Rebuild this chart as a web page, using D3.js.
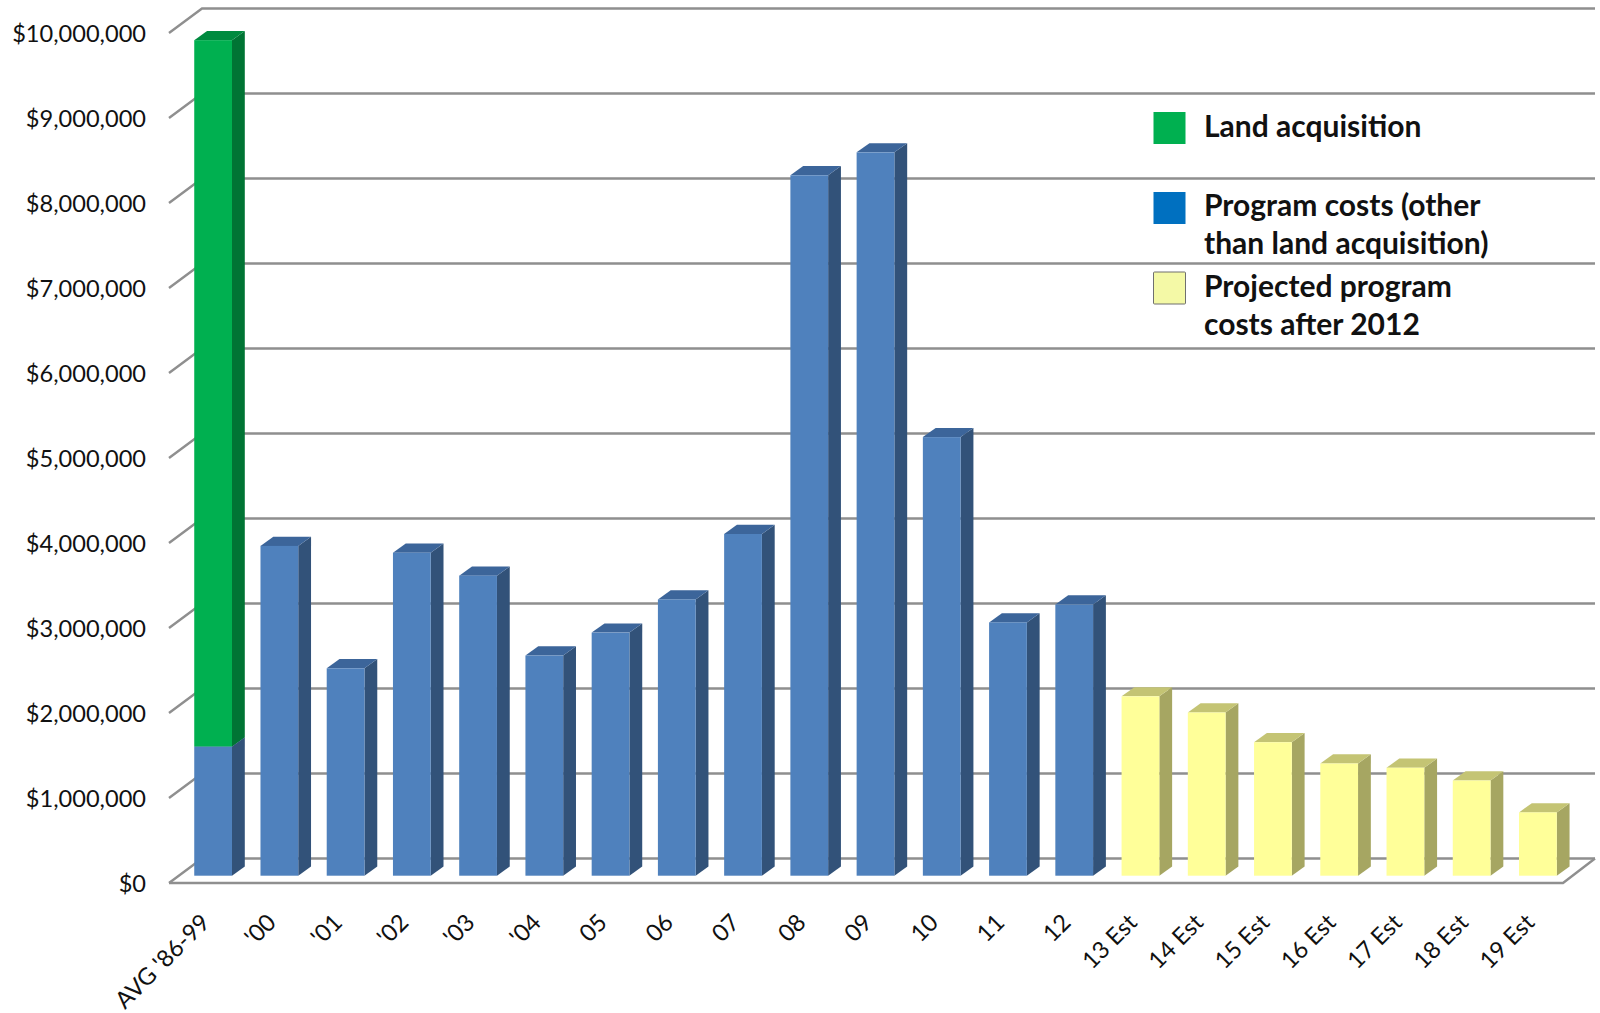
<!DOCTYPE html>
<html>
<head>
<meta charset="utf-8">
<script src="https://cdn.jsdelivr.net/npm/d3@7"></script>
<style>
  html, body { margin: 0; background: #fff; }
  svg { display: block; }
  text { font-family: Lato, "Open Sans", sans-serif; fill: #111; }
</style>
</head>
<body>
<div id="chart"></div>
<script>
const categories = ["AVG '86-99","'00","'01","'02","'03","'04","05","06","07","08","09","10","11","12",
  "13 Est","14 Est","15 Est","16 Est","17 Est","18 Est","19 Est"];
const programCosts = [1.52,3.88,2.44,3.80,3.53,2.59,2.86,3.25,4.02,8.24,8.51,5.16,2.98,3.19,0,0,0,0,0,0,0];
const landCosts    = [8.31,0,0,0,0,0,0,0,0,0,0,0,0,0,0,0,0,0,0,0,0];
const projected    = [0,0,0,0,0,0,0,0,0,0,0,0,0,0,2.11,1.92,1.57,1.32,1.27,1.12,0.745];
const yTicks = [0,1,2,3,4,5,6,7,8,9,10];
const legendItems = [
  { label: ["Land acquisition"], fill: "#00b050", stroke: "none" },
  { label: ["Program costs (other", "than land acquisition)"], fill: "#0070c0", stroke: "none" },
  { label: ["Projected program", "costs after 2012"], fill: "#f4f9a6", stroke: "#6f6f6f" },
];

const W = 1600, H = 1013;
const FLOOR = { x0: 169, x1: 1563, y0: 883, y1: 33 };
const WALL = { dx: 33, dy: -24.5 };   // back wall offset from the front plane
const BAR = { dx: 11, dy: -7.3, sideX: 12.8, sideY: -9.2, w: 0.57 };

const SKINS = {
  program:   { front: "#4f81bd", side: "#325279", top: "#3c659a" },
  land:      { front: "#00b050", side: "#007434", top: "#008a3f" },
  projected: { front: "#ffff99", side: "#a6a662", top: "#c4c474" },
};

const x = d3.scaleBand().domain(categories).range([FLOOR.x0, FLOOR.x1 - 3]);
const y = d3.scaleLinear().domain([0, 10]).range([FLOOR.y0, FLOOR.y1]);

const svg = d3.select("#chart").append("svg").attr("width", W).attr("height", H);

// ── Walls and floor ──
const grid = svg.append("g").attr("fill", "none").attr("stroke", "#8f8f8f").attr("stroke-width", 2.4);
grid.selectAll("path.wall").data(yTicks).join("path").attr("class", "wall")
  .attr("d", d => `M${FLOOR.x0},${y(d)}L${FLOOR.x0 + WALL.dx},${y(d) + WALL.dy}L${FLOOR.x1 + WALL.dx - 1},${y(d) + WALL.dy}`);
grid.append("path")
  .attr("d", `M${FLOOR.x0},${y(0)}L${FLOOR.x1},${y(0)}L${FLOOR.x1 + WALL.dx - 1},${y(0) + WALL.dy}`);

// ── Bars ──
const segments = [];
categories.forEach((c, i) => {
  let base = 0;
  [["program", programCosts[i]], ["land", landCosts[i]], ["projected", projected[i]]].forEach(([type, v]) => {
    if (v > 0) { segments.push({ c, type, base, top: base + v }); base += v; }
  });
});

const bw = x.bandwidth() * BAR.w;
const left = d => x(d.c) + (x.bandwidth() - bw) / 2 + BAR.dx;
const bars = svg.append("g").selectAll("g").data(segments).join("g");

bars.append("path") // side
  .attr("fill", d => SKINS[d.type].side)
  .attr("d", d => {
    const r = left(d) + bw, b = y(d.base) + BAR.dy, t = y(d.top) + BAR.dy;
    return `M${r},${b}L${r + BAR.sideX},${b + BAR.sideY}L${r + BAR.sideX},${t + BAR.sideY}L${r},${t}Z`;
  });
bars.append("path") // top
  .attr("fill", d => SKINS[d.type].top)
  .attr("d", d => {
    const l = left(d), t = y(d.top) + BAR.dy;
    return `M${l},${t}L${l + BAR.sideX},${t + BAR.sideY}L${l + bw + BAR.sideX},${t + BAR.sideY}L${l + bw},${t}Z`;
  });
bars.append("rect") // front
  .attr("x", left).attr("width", bw)
  .attr("y", d => y(d.top) + BAR.dy)
  .attr("height", d => y(d.base) - y(d.top))
  .attr("fill", d => SKINS[d.type].front);

// ── Axes ──
const yAxis = svg.append("g")
  .attr("transform", `translate(${FLOOR.x0 - 23},0)`)
  .call(d3.axisLeft(y).tickValues(yTicks).tickSize(0).tickPadding(0)
    .tickFormat(d => "$" + d3.format(",")(d * 1e6)));
yAxis.select(".domain").remove();
yAxis.selectAll("text").attr("font-size", 23.6).attr("dy", "0.38em").style("font-family", "Lato").attr("fill", "#111");

const xAxis = svg.append("g")
  .attr("transform", `translate(0,${FLOOR.y0})`)
  .call(d3.axisBottom(x).tickSize(0).tickPadding(0));
xAxis.select(".domain").remove();
xAxis.selectAll("text")
  .attr("font-size", 23.6).attr("fill", "#111").style("font-family", "Lato")
  .attr("text-anchor", "end")
  .attr("x", 0).attr("y", 0).attr("dy", 0)
  .attr("transform", "translate(9,41) rotate(-45)");

// ── Legend ──
const legendTop = [112, 192, 272];
const legendBase = [[137], [216, 254], [297, 335]];
const legend = svg.append("g").selectAll("g").data(legendItems).join("g");
legend.append("rect")
  .attr("x", 1153.5).attr("y", (d, i) => legendTop[i])
  .attr("width", 32).attr("height", 32).attr("rx", d => d.stroke === "none" ? 0 : 1)
  .attr("fill", d => d.fill).attr("stroke", d => d.stroke);
legend.each(function(d, i) {
  d3.select(this).selectAll("text").data(d.label).join("text")
    .attr("x", 1204).attr("y", (t, j) => legendBase[i][j])
    .attr("font-size", 30).attr("font-weight", 700).text(t => t);
});
</script>
</body>
</html>
